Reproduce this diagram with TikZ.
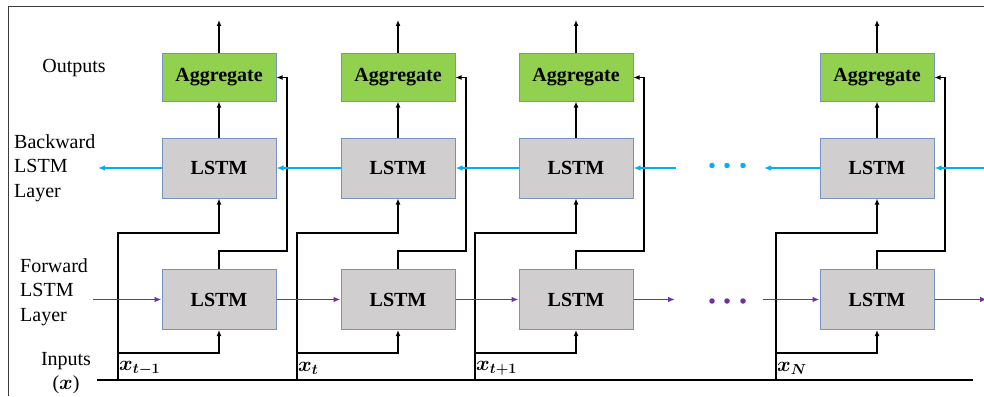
\documentclass[tikz,border=0pt]{standalone}
\usepackage{fontspec}
\setmainfont{Liberation Serif}
\usepackage{amsmath}
\usepackage{bm}
\usetikzlibrary{arrows.meta,calc}
\definecolor{aggfill}{RGB}{146,208,80}
\definecolor{lstmfill}{RGB}{208,206,206}
\definecolor{boxline}{RGB}{118,146,194}
\definecolor{bwblue}{RGB}{0,176,240}
\definecolor{fwpurple}{RGB}{112,48,160}
\definecolor{framegray}{RGB}{60,60,60}
\tikzset{
  aggbox/.style={draw=boxline, line width=1pt, fill=aggfill, minimum width=114pt, minimum height=47pt, inner sep=0pt, font=\fontsize{20}{24}\selectfont\bfseries},
  lstmbox/.style={draw=boxline, line width=1pt, fill=lstmfill, minimum width=114pt, minimum height=60pt, inner sep=0pt, font=\fontsize{20}{24}\selectfont\bfseries},
  conn/.style={draw=black, line width=1.5pt, -{Latex[length=6pt,width=5pt]}},
  plainconn/.style={draw=black, line width=1.5pt},
  bwarrow/.style={draw=bwblue, line width=1.3pt, -{Latex[length=7pt,width=5.5pt]}},
  fwarrow/.style={draw=fwpurple, line width=1.3pt, -{Latex[length=7pt,width=5.5pt]}},
  sidelabel/.style={font=\fontsize{20}{24.5}\selectfont, inner sep=0pt},
  inlabel/.style={font=\fontsize{20}{24}\selectfont, inner sep=0pt, anchor=west},
  dotstyle/.style={circle, inner sep=0pt, minimum size=5.5pt}
}
\begin{document}
\begin{tikzpicture}[x=1pt,y=-1pt]
\useasboundingbox (0,0) rectangle (984,396);
% frame
\draw[framegray, line width=1pt] (8,396) -- (8,7) -- (984,7);

% columns
\foreach \i/\c/\lab in {1/219/{\bm{x_{t-1}}}, 2/398/{\bm{x_{t}}}, 3/576/{\bm{x_{t+1}}}, 4/877/{\bm{x_{N}}}} {
  \node[aggbox] (agg\i) at (\c,77.5) {Aggregate};
  \node[lstmbox] (bw\i) at (\c,168) {LSTM};
  \node[lstmbox] (fw\i) at (\c,299.5) {LSTM};
  \coordinate (out\i) at (\c,20);
  \coordinate (in\i) at (\c-101,380);
  \coordinate (inb\i) at (\c-101,233);
  \coordinate (inf\i) at (\c-101,353);
  \coordinate (fwup\i) at (\c+68,251);
  \coordinate (aggin\i) at (\c+68,77.5);
  % output up
  \draw[conn] (agg\i.north) -- (out\i);
  % backward to aggregate
  \draw[conn] (bw\i.north) -- (agg\i.south);
  % forward to aggregate
  \draw[conn] (fw\i.north) |- (fwup\i) -- (aggin\i) -- (agg\i.east);
  % inputs
  \draw[conn] (in\i) -- (inb\i) -| (bw\i.south);
  \draw[conn] (inf\i) -| (fw\i.south);
  \node[inlabel] (xl\i) at (\c-100,368) {$\lab$};
}

% baseline
\coordinate (bl0) at (97,380);
\coordinate (bl1) at (973,380);
\draw[plainconn] (bl0) -- (bl1);

% forward chain (purple)
\coordinate (fwstart) at (93,299.5);
\coordinate (fwdots1) at (675,299.5);
\coordinate (fwdots2) at (763,299.5);
\coordinate (fwend) at (987,299.5);
\draw[fwarrow] (fwstart) -- (fw1.west);
\draw[fwarrow] (fw1.east) -- (fw2.west);
\draw[fwarrow] (fw2.east) -- (fw3.west);
\draw[fwarrow] (fw3.east) -- (fwdots1);
\draw[fwarrow] (fwdots2) -- (fw4.west);
\draw[fwarrow] (fw4.east) -- (fwend);
\foreach \k/\x in {1/712,2/727,3/743} {
  \node[dotstyle, fill=fwpurple] (fd\k) at (\x,301) {};
}

% backward chain (blue)
\coordinate (bwend) at (98,168);
\coordinate (bwdots1) at (676,168);
\coordinate (bwdots2) at (764,168);
\coordinate (bwstart) at (990,168);
\draw[bwarrow] (bw1.west) -- (bwend);
\draw[bwarrow] (bw2.west) -- (bw1.east);
\draw[bwarrow] (bw3.west) -- (bw2.east);
\draw[bwarrow] (bwdots1) -- (bw3.east);
\draw[bwarrow] (bw4.west) -- (bwdots2);
\draw[bwarrow] (bwstart) -- (bw4.east);
\foreach \k/\x in {1/712,2/727,3/743} {
  \node[dotstyle, fill=bwblue] (bd\k) at (\x,165.5) {};
}

% side labels
\node[sidelabel] (outputs) at (74,68) {Outputs};
\node[sidelabel, align=left, anchor=west] (bwlabel) at (14,168) {Backward\\LSTM\\Layer};
\node[sidelabel, align=left, anchor=west] (fwlabel) at (20,292) {Forward\\LSTM\\Layer};
\node[sidelabel, align=center] (inputs) at (66,373) {Inputs\\($\bm{x}$)};
\end{tikzpicture}
\end{document}
